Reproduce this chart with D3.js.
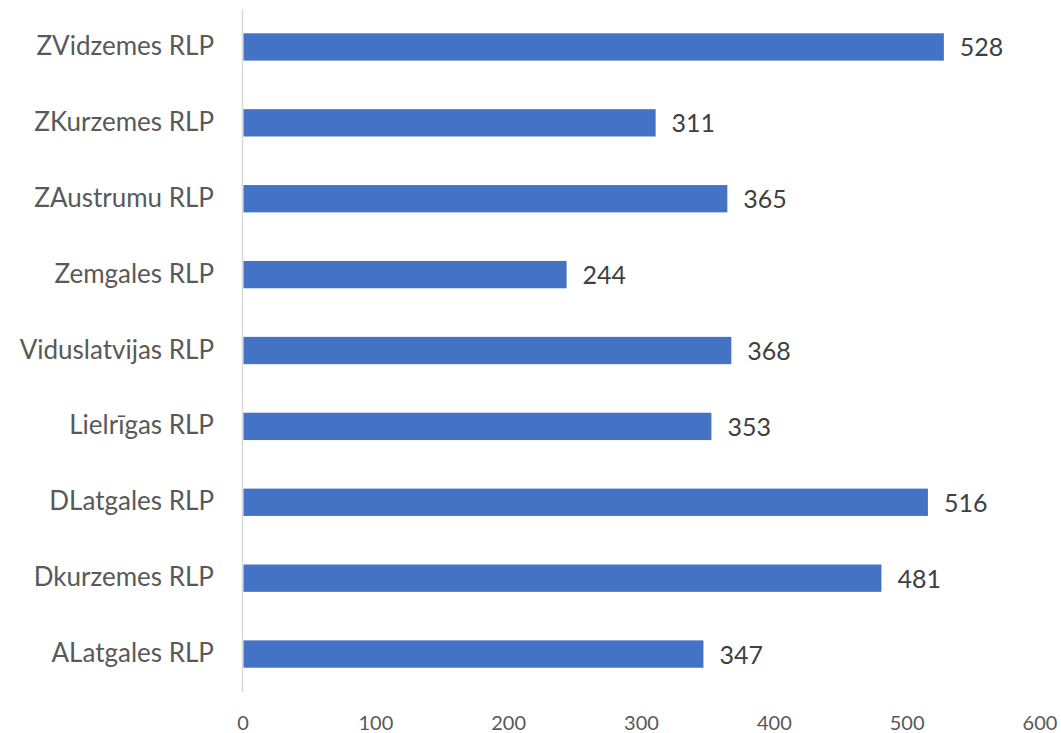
<!DOCTYPE html>
<html><head><meta charset="utf-8">
<script src="https://cdn.jsdelivr.net/npm/d3@7"></script>
<style>body{margin:0;background:#fff}svg{display:block}</style>
</head><body>
<script>
const categories = ["ZVidzemes RLP","ZKurzemes RLP","ZAustrumu RLP","Zemgales RLP","Viduslatvijas RLP","Lielrīgas RLP","DLatgales RLP","Dkurzemes RLP","ALatgales RLP"];
const values = [528,311,365,244,368,353,516,481,347];
const xTicks = [0,100,200,300,400,500,600];

const W=1061,H=733;
const svg=d3.select("body").append("svg").attr("width",W).attr("height",H);
const x=d3.scaleLinear().domain([0,600]).range([242.5,1039.5]);
const y=d3.scaleBand().domain(categories).range([9,692]).paddingInner(0.64).paddingOuter(0.32);
const font="Lato, sans-serif";

svg.append("line").attr("x1",x(0)).attr("x2",x(0)).attr("y1",9).attr("y2",692)
  .attr("stroke","#d9d9d9").attr("stroke-width",1.5);

svg.selectAll("rect.bar").data(values).join("rect").attr("class","bar")
  .attr("x",x(0)+1).attr("y",(d,i)=>y(categories[i]))
  .attr("width",d=>x(d)-x(0)-1).attr("height",y.bandwidth()).attr("fill","#4472C4");

svg.selectAll("text.val").data(values).join("text").attr("class","val")
  .attr("x",d=>x(d)+16).attr("y",(d,i)=>y(categories[i])+y.bandwidth()/2+9.5)
  .attr("font-family",font).attr("font-size",25)
  .attr("fill","#404040").text(d=>d);

svg.selectAll("text.cat").data(categories).join("text").attr("class","cat")
  .attr("x",214).attr("y",d=>y(d)+y.bandwidth()/2+8)
  .attr("text-anchor","end").attr("font-family",font).attr("font-size",26)
  .attr("fill","#595959").text(d=>d);

const xAxis=d3.axisBottom(x).tickValues(xTicks).tickSize(0).tickPadding(0);
const g=svg.append("g").attr("transform","translate(0,730)").call(xAxis);
g.select(".domain").remove();
g.selectAll("text").attr("font-family",font).attr("font-size",20).attr("fill","#595959").attr("y",0).attr("dy",0);
</script>
</body></html>
